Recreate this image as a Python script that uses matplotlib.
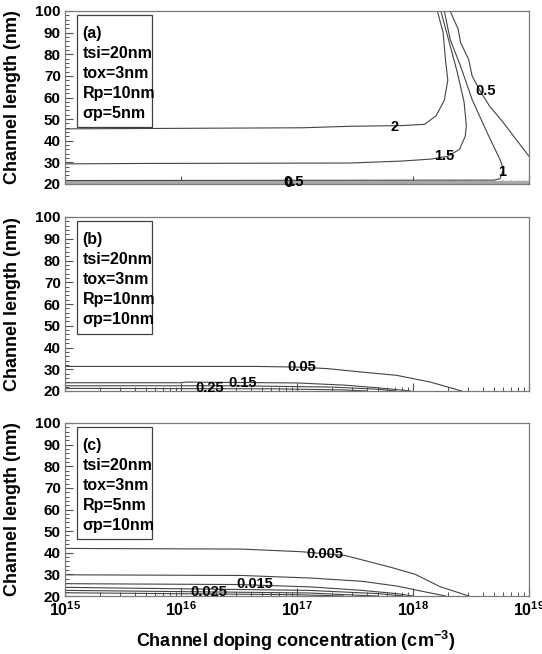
import numpy as np
import matplotlib
matplotlib.use("Agg")
import matplotlib.pyplot as plt
from matplotlib.patches import Rectangle
from matplotlib.ticker import LogLocator, MultipleLocator, NullFormatter, FixedLocator

plt.rcParams['font.family'] = ['Liberation Sans', 'DejaVu Sans']
plt.rcParams['font.weight'] = 'bold'
plt.rcParams['mathtext.fontset'] = 'custom'
plt.rcParams['mathtext.rm'] = 'Liberation Sans:bold'
plt.rcParams['mathtext.bf'] = 'Liberation Sans:bold'
plt.rcParams['mathtext.it'] = 'Liberation Sans:bold'
plt.rcParams['mathtext.default'] = 'bf'

# ---------------- data (x given as log10 of doping, y in nm) ----------------
# panel (a)
a_2_x = [15, 17.05, 17.46, 17.9, 18.10, 18.20, 18.27, 18.30, 18.28, 18.26, 18.21]
a_2_y = [45.5, 46.0, 46.7, 47.0, 47.6, 51.6, 58.7, 68.0, 77.4, 89.9, 100]
a_15_x = [15, 15.65, 17.46, 17.9, 18.15, 18.30, 18.40, 18.45, 18.46, 18.44, 18.38, 18.31, 18.24]
a_15_y = [29.3, 29.5, 29.7, 30.6, 31.5, 32.8, 36.0, 42.0, 47.0, 58.0, 72.0, 86.0, 100]
a_1_x = [15, 18.70, 18.75, 18.78, 18.75, 18.64, 18.51, 18.41, 18.32, 18.27]
a_1_y = [21.6, 21.8, 22.5, 26.6, 31.3, 43.6, 59.0, 74.5, 86.9, 100]
a_05_x = [18.32, 18.39, 18.41, 18.48, 18.51, 18.58, 18.66, 18.78, 19.0]
a_05_y = [100, 91.5, 85.4, 77.6, 69.9, 62.9, 56.0, 48.3, 32.8]
a_band_y = [20.4, 20.8, 21.2]

# panel (b)
b_005_x = [15, 16.64, 17.0, 17.26, 17.56, 17.86, 18.15, 18.42]
b_005_y = [31.3, 31.3, 31.0, 30.3, 28.7, 27.2, 24.1, 20]
b_015_x = [15, 16.0, 16.05, 17.0, 17.41, 17.71, 17.98]
b_015_y = [23.8, 23.8, 24.1, 23.7, 22.7, 21.4, 20]
b_02_x = [15, 16.5, 17.3, 17.7, 17.85]
b_02_y = [22.4, 22.4, 21.8, 20.8, 20]
b_025_x = [15, 16.8, 17.4, 17.6]
b_025_y = [21.2, 21.0, 20.5, 20]

# panel (c)
c_0005_x = [15, 16.52, 17.03, 17.41, 17.80, 18.02, 18.23, 18.48]
c_0005_y = [42.0, 41.7, 40.5, 38.8, 33.4, 30.0, 24.4, 20]
c_001_x = [15, 16.52, 17.12, 17.56, 17.86, 18.04, 18.28]
c_001_y = [29.8, 29.5, 28.3, 26.8, 24.6, 22.6, 20]
c_0015_x = [15, 16.5, 17.12, 17.56, 17.86, 18.0]
c_0015_y = [25.7, 25.3, 24.2, 22.6, 21.1, 20]
c_002_x = [15, 17.1, 17.7, 17.92]
c_002_y = [24.0, 22.6, 21.1, 20]
c_0025_x = [15, 17.1, 17.55, 17.7]
c_0025_y = [22.6, 21.4, 20.3, 20]
c_003_x = [15, 17.0, 17.4]
c_003_y = [21.5, 20.6, 20]

# contour labels: (text, log10 x, y)
a_labels = [("2", 17.84, 46.3), ("1.5", 18.27, 32.9), ("1", 18.77, 25.6),
            ("0.5", 18.63, 63.0), ("0.5", 16.97, 21.0), ("0", 16.93, 20.6)]
b_labels = [("0.05", 17.04, 31.0), ("0.15", 16.53, 23.8), ("0.25", 16.25, 21.5)]
c_labels = [("0.005", 17.24, 39.6), ("0.015", 16.64, 25.7), ("0.025", 16.24, 21.9)]

panel_texts = [
    ["(a)", "tsi=20nm", "tox=3nm", "Rp=10nm", "\u03c3p=5nm"],
    ["(b)", "tsi=20nm", "tox=3nm", "Rp=10nm", "\u03c3p=10nm"],
    ["(c)", "tsi=20nm", "tox=3nm", "Rp=5nm", "\u03c3p=10nm"],
]

y_ticks = [20, 30, 40, 50, 60, 70, 80, 90, 100]
x_ticks_exp = [15, 16, 17, 18, 19]

# ---------------- figure ----------------
W, H = 542, 654
fig = plt.figure(figsize=(W / 100, H / 100), dpi=100)

line_col = '#444444'
spine_col = '#7a7a7a'

def px_axes(top, bottom):
    left, right = 65, 529
    return [left / W, 1 - bottom / H, (right - left) / W, (bottom - top) / H]

rects = [px_axes(11, 184), px_axes(217, 391), px_axes(423, 596)]

series = [
    [(a_2_x, a_2_y), (a_15_x, a_15_y), (a_1_x, a_1_y), (a_05_x, a_05_y)],
    [(b_005_x, b_005_y), (b_015_x, b_015_y), (b_02_x, b_02_y), (b_025_x, b_025_y)],
    [(c_0005_x, c_0005_y), (c_001_x, c_001_y), (c_0015_x, c_0015_y),
     (c_002_x, c_002_y), (c_0025_x, c_0025_y), (c_003_x, c_003_y)],
]
labels_all = [a_labels, b_labels, c_labels]

for i, r in enumerate(rects):
    ax = fig.add_axes(r)
    ax.set_xscale('log')
    ax.set_xlim(1e15, 1e19)
    ax.set_ylim(20, 100)

    if i == 0:
        for yb in a_band_y:
            ax.axhline(yb, color='#a8a8a8', lw=0.9)
    for xs, ys in series[i]:
        ax.plot(10 ** np.array(xs, dtype=float), ys, color=line_col, lw=0.8,
                solid_joinstyle='round')
    for txt, lx, ly in labels_all[i]:
        ax.text(10 ** lx, ly, txt, fontsize=10.5, fontweight='bold',
                ha='center', va='center', color='black')

    # text box
    ax.add_patch(Rectangle((0.026, 0.33), 0.162, 0.647, transform=ax.transAxes,
                           fill=False, edgecolor='#404040', lw=0.9))
    for k, t in enumerate(panel_texts[i]):
        ax.text(0.038, 0.87 - k * 0.115, t, transform=ax.transAxes,
                fontsize=11.5, fontweight='bold', ha='left', va='center')

    # ticks
    ax.yaxis.set_major_locator(FixedLocator(y_ticks))
    ax.yaxis.set_minor_locator(MultipleLocator(2))
    ax.xaxis.set_major_locator(FixedLocator([10.0 ** e for e in x_ticks_exp]))
    ax.xaxis.set_minor_locator(LogLocator(base=10, subs=np.arange(2, 10)))
    ax.xaxis.set_minor_formatter(NullFormatter())
    ax.tick_params(which='both', direction='in', top=False, right=False,
                   color='#505050')
    ax.tick_params(which='major', length=6, width=0.8)
    ax.tick_params(which='minor', length=3, width=0.7)
    ax.set_yticklabels([str(v) for v in y_ticks], fontsize=11, fontweight='bold')
    ax.tick_params(axis='y', pad=3)
    if i == 2:
        ax.set_xticklabels([r'$\mathbf{10^{%d}}$' % e for e in x_ticks_exp],
                           fontsize=11.5)
        ax.tick_params(axis='x', pad=3)
    else:
        ax.set_xticklabels([])
    for s in ax.spines.values():
        s.set_color(spine_col)
        s.set_linewidth(0.9)

    ax.set_ylabel('Channel length (nm)', fontsize=13, fontweight='bold')
    ax.yaxis.set_label_coords(-0.095, 0.5)

fig.text(296 / W, 1 - 641 / H, r'Channel doping concentration (cm$^{\mathbf{-3}}$)',
         fontsize=13, fontweight='bold', ha='center', va='center')

fig.savefig('out.png', dpi=100)
